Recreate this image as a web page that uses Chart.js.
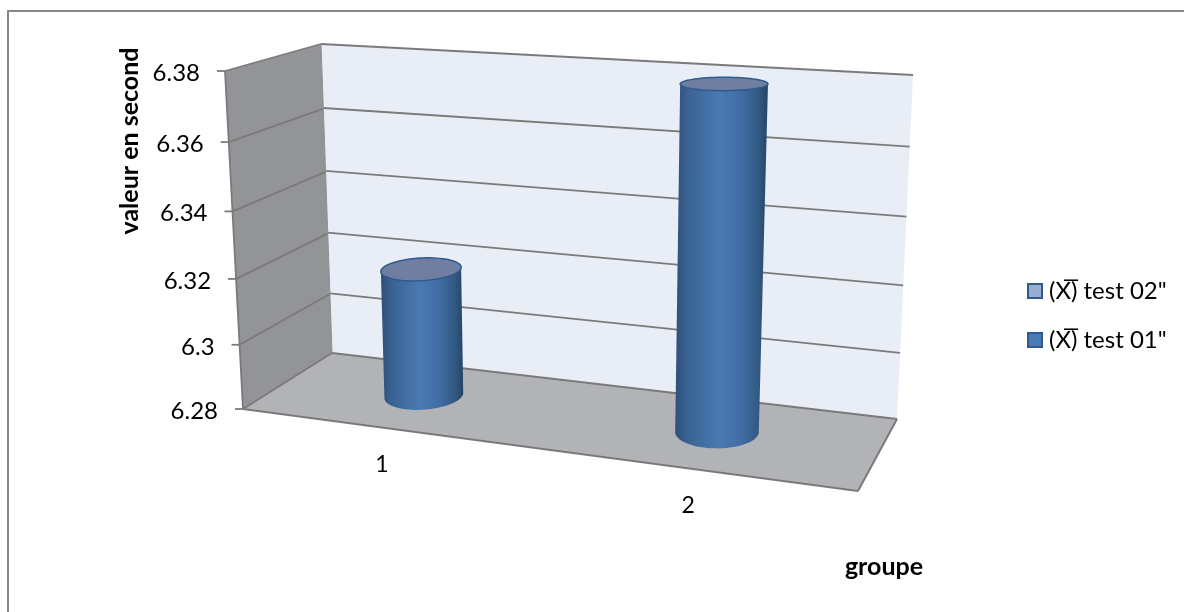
<!DOCTYPE html>
<html>
<head>
<meta charset="utf-8">
<title>valeur en second</title>
<script src="https://cdn.jsdelivr.net/npm/chart.js@4/dist/chart.umd.js"></script>
<style>
  html, body { margin: 0; padding: 0; background: #fff; }
  canvas { display: block; }
</style>
</head>
<body>
<canvas id="cylChart" width="1184" height="612"></canvas>
<script>
/// data ///
const categories = ['1', '2'];
const yTicks = [6.28, 6.3, 6.32, 6.34, 6.36, 6.38];
const test02 = [null, null];
const test01 = [6.319, 6.379];
const xTitle = 'groupe';
const yTitle = 'valeur en second';

/// corners of the 3d box, order: front-left, front-right, back-right, back-left ///
const floorQuad = [[243, 409], [858, 491], [897, 419], [332, 353]];
const ceilQuad = [[225, 71], [873, 102], [913, 75], [321, 44]];
// vertical edges of the box all run towards this point
const vanish = [578, 7270];

const fontName = 'Lato, Carlito, "Open Sans", sans-serif';
const cylDepth = 0.52, cylRu = 0.0635, cylRd = 0.235;

function quadMap(q) {
  const [x0, y0] = q[0], [x1, y1] = q[1], [x2, y2] = q[2], [x3, y3] = q[3];
  const dx1 = x1 - x2, dx2 = x3 - x2, sx = x0 - x1 + x2 - x3;
  const dy1 = y1 - y2, dy2 = y3 - y2, sy = y0 - y1 + y2 - y3;
  const den = dx1 * dy2 - dx2 * dy1;
  const g = (sx * dy2 - dx2 * sy) / den, h = (dx1 * sy - sx * dy1) / den;
  const a = x1 - x0 + g * x1, b = x3 - x0 + h * x3;
  const d = y1 - y0 + g * y1, e = y3 - y0 + h * y3;
  return (u, v) => {
    const w = g * u + h * v + 1;
    return [(a * u + b * v + x0) / w, (d * u + e * v + y0) / w];
  };
}

const floorAt = quadMap(floorQuad);
const ceilAt = quadMap(ceilQuad);
const backAt = quadMap([floorQuad[3], floorQuad[2], ceilQuad[2], ceilQuad[3]]);
const leftAt = quadMap([floorQuad[0], floorQuad[3], ceilQuad[3], ceilQuad[0]]);

// point inside the box: u across, d in depth, v up
function boxPoint(u, d, v) {
  const q = 1.038, s = v / (v + (1 - v) * q);
  const b = floorAt(u, d), t = ceilAt(u, d);
  const y = b[1] + (t[1] - b[1]) * s;
  const x = b[0] + (b[0] - vanish[0]) / (vanish[1] - b[1]) * (b[1] - y);
  return [x, y];
}

function fillPoly(ctx, pts, color) {
  ctx.beginPath();
  pts.forEach((p, i) => i ? ctx.lineTo(p[0], p[1]) : ctx.moveTo(p[0], p[1]));
  ctx.closePath();
  ctx.fillStyle = color;
  ctx.fill();
}

function strokeLine(ctx, a, b, color, width) {
  ctx.beginPath();
  ctx.moveTo(a[0], a[1]);
  ctx.lineTo(b[0], b[1]);
  ctx.strokeStyle = color;
  ctx.lineWidth = width;
  ctx.stroke();
}

function ring(u, v) {
  const pts = [];
  for (let i = 0; i < 72; i++) {
    const t = i / 72 * Math.PI * 2;
    pts.push(boxPoint(u + cylRu * Math.cos(t), cylDepth + cylRd * Math.sin(t), v));
  }
  return pts;
}

function drawCylinder(ctx, u, v) {
  const top = ring(u, v), bottom = ring(u, 0);
  const minI = pts => pts.reduce((m, p, i) => p[0] < pts[m][0] ? i : m, 0);
  const maxI = pts => pts.reduce((m, p, i) => p[0] > pts[m][0] ? i : m, 0);
  // front half of the bottom ring, from right side to left side
  const body = [top[maxI(top)]];
  let i = maxI(bottom);
  const stop = minI(bottom);
  while (i !== stop) {
    body.push(bottom[i]);
    i = (i + 71) % 72;
  }
  body.push(bottom[stop], top[minI(top)]);
  const left = Math.min(top[minI(top)][0], bottom[stop][0]);
  const right = Math.max(top[maxI(top)][0], bottom[maxI(bottom)][0]);
  const grad = ctx.createLinearGradient(left, 0, right, 0);
  grad.addColorStop(0, '#2f5078');
  grad.addColorStop(0.14, '#3a6394');
  grad.addColorStop(0.48, '#4a7ab3');
  grad.addColorStop(0.72, '#3f6ca3');
  grad.addColorStop(0.9, '#315982');
  grad.addColorStop(1, '#254566');
  fillPoly(ctx, body, grad);
  fillPoly(ctx, top, '#707fa1');
  ctx.beginPath();
  top.forEach((p, k) => k ? ctx.lineTo(p[0], p[1]) : ctx.moveTo(p[0], p[1]));
  ctx.closePath();
  ctx.strokeStyle = '#2f5a8e';
  ctx.lineWidth = 1.5;
  ctx.stroke();
}

const box3d = {
  id: 'box3d',
  // native flat bars are replaced by the cylinders below
  beforeDatasetsDraw(chart) {
    const ctx = chart.ctx, area = chart.chartArea;
    const yScale = chart.scales.y, xScale = chart.scales.x;
    const toV = val => (area.bottom - yScale.getPixelForValue(val)) / area.height;
    const toU = px => (px - area.left) / area.width;

    ctx.save();
    ctx.fillStyle = '#fff';
    ctx.fillRect(0, 0, chart.width, chart.height);
    ctx.strokeStyle = '#868686';
    ctx.lineWidth = 2;
    ctx.strokeRect(8, 11, chart.width + 40, chart.height + 40);

    // walls and floor
    fillPoly(ctx, [floorQuad[3], floorQuad[2], ceilQuad[2], ceilQuad[3]], '#e9edf6');
    fillPoly(ctx, [floorQuad[0], floorQuad[3], ceilQuad[3], ceilQuad[0]], '#939497');
    fillPoly(ctx, floorQuad, '#b1b3b6');

    // grid lines, ticks and y labels
    ctx.font = '24px ' + fontName;
    ctx.textAlign = 'right';
    ctx.textBaseline = 'middle';
    yTicks.forEach(val => {
      const v = toV(val);
      const front = leftAt(0, v);
      strokeLine(ctx, front, leftAt(1, v), '#7a7a7a', 1.8);
      strokeLine(ctx, backAt(0, v), backAt(1, v), '#7a7a7a', 1.8);
      strokeLine(ctx, front, [front[0] - 8, front[1]], '#7a7a7a', 1.8);
      ctx.fillStyle = '#000';
      ctx.fillText(String(val), front[0] - 25, front[1] + 2);
    });
    strokeLine(ctx, ceilQuad[0], floorQuad[0], '#7a7a7a', 1.8);
    strokeLine(ctx, ceilQuad[3], floorQuad[3], '#8f8f8f', 1);
    strokeLine(ctx, floorQuad[0], floorQuad[1], '#7a7a7a', 2);
    strokeLine(ctx, floorQuad[1], floorQuad[2], '#7a7a7a', 2);

    // cylinders from the bar elements
    chart.data.datasets.forEach((ds, i) => {
      chart.getDatasetMeta(i).data.forEach((bar, k) => {
        if (ds.data[k] === null) return;
        drawCylinder(ctx, toU(bar.x), (area.bottom - bar.y) / area.height);
      });
    });

    // category labels under the front edge
    ctx.fillStyle = '#000';
    ctx.font = '23px ' + fontName;
    ctx.textAlign = 'center';
    categories.forEach((c, k) => {
      const p = floorAt(toU(xScale.getPixelForValue(k)), 0);
      ctx.fillText(c, p[0] + 1, p[1] + 37);
    });

    // axis titles
    ctx.font = 'bold 25px ' + fontName;
    ctx.fillText(xTitle, 884, 567);
    ctx.save();
    ctx.translate(130, 141);
    ctx.rotate(-Math.PI / 2);
    ctx.fillText(yTitle, 0, 0);
    ctx.restore();

    // legend
    chart.data.datasets.forEach((ds, i) => {
      const y = 291 + i * 49;
      ctx.fillStyle = ds.backgroundColor;
      ctx.fillRect(1028, y - 7, 14, 14);
      ctx.strokeStyle = '#2f5a8e';
      ctx.lineWidth = 2;
      ctx.strokeRect(1028, y - 7, 14, 14);
      ctx.fillStyle = '#000';
      ctx.font = '24px ' + fontName;
      ctx.textAlign = 'left';
      ctx.fillText(ds.label, 1049, y);
    });
    ctx.restore();
    return false;
  }
};

new Chart(document.getElementById('cylChart'), {
  type: 'bar',
  data: {
    labels: categories,
    datasets: [
      { label: '(X\u0305) test 02"', data: test02, backgroundColor: '#9aaed2', grouped: false },
      { label: '(X\u0305) test 01"', data: test01, backgroundColor: '#4a7ab3', grouped: false }
    ]
  },
  options: {
    responsive: false,
    animation: false,
    plugins: { legend: { display: false }, tooltip: { enabled: false } },
    scales: {
      x: { display: false },
      y: { display: false, min: yTicks[0], max: yTicks[yTicks.length - 1] }
    }
  },
  plugins: [box3d]
});
</script>
</body>
</html>
